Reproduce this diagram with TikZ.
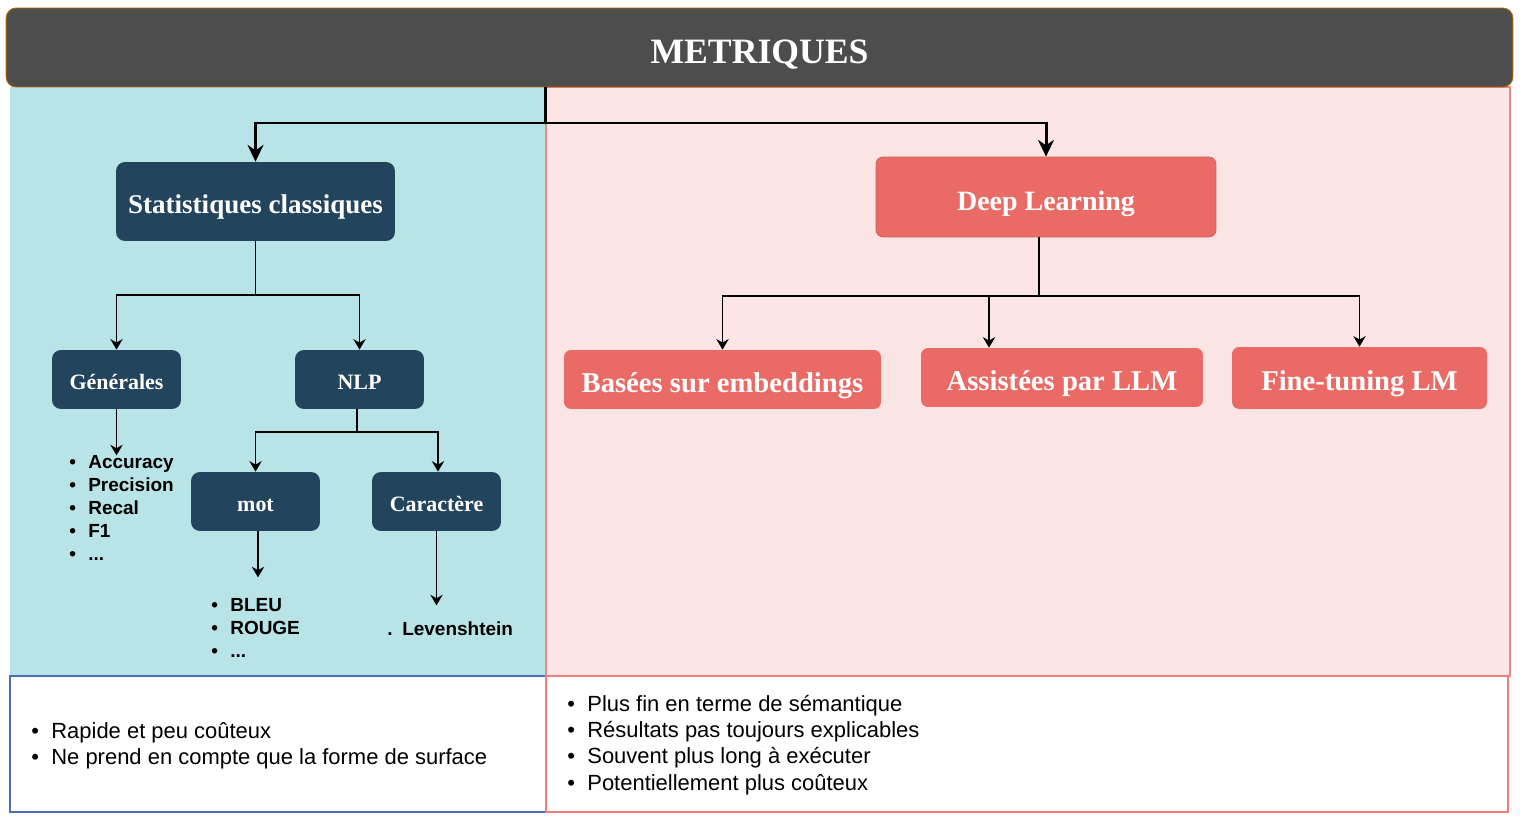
\documentclass[tikz,border=0pt]{standalone}
\usepackage{fontspec}
\setmainfont{Liberation Serif}
\newfontfamily\arialfont{Liberation Sans}
\usetikzlibrary{arrows.meta}
\definecolor{hdrgray}{HTML}{4D4D4D}
\definecolor{hdrline}{HTML}{B46504}
\definecolor{cyanbg}{HTML}{B8E4E7}
\definecolor{pinkbg}{HTML}{FAE4E4}
\definecolor{pinkline}{HTML}{EA8A87}
\definecolor{blueline}{HTML}{4A6FB0}
\definecolor{redline}{HTML}{F07C7C}
\definecolor{navy}{HTML}{23445D}
\definecolor{salmon}{HTML}{EA6B66}
\definecolor{salmonline}{HTML}{C8605C}
\newcommand\bul[2][10.8pt]{\makebox[#1][l]{\textbullet}#2}

\begin{document}
\begin{tikzpicture}[x=0.02cm,y=-0.02cm,
  darkbox/.style={fill=navy,text=white,rounded corners=0.18cm,text depth=0pt},
  redbox/.style={fill=salmon,draw=salmonline,text=white,rounded corners=0.14cm,text depth=0pt,text height=14.8pt},
  small/.style={minimum width=2.58cm,minimum height=1.18cm,text height=11.2pt,font=\bfseries\fontsize{12.5}{15}\selectfont},
  arr/.style={-{Stealth[length=6pt,width=7pt]},line width=1.1pt},
  bigarr/.style={-{Stealth[length=9.5pt,width=9pt]},line width=1.7pt},
  lst/.style={anchor=west,inner sep=0pt,align=left,font=\arialfont\bfseries\fontsize{10.8}{13.1}\selectfont},
  bot/.style={anchor=west,inner sep=0pt,align=left,font=\arialfont\fontsize{12.5}{15}\selectfont}]
\useasboundingbox (0,0) rectangle (1530,824);

% panels
\fill[cyanbg] (10,87) rectangle (546,676);
\filldraw[fill=pinkbg,draw=pinkline,line width=0.6pt] (546,87) rectangle (1510,676);
\filldraw[fill=white,draw=blueline,line width=0.6pt] (10,676) rectangle (546,812);
\filldraw[fill=white,draw=redline,line width=0.6pt] (546,676) rectangle (1508,812);

% header
\node[fill=hdrgray,draw=hdrline,line width=0.5pt,rounded corners=0.2cm,text=white,text depth=0pt,text height=18.5pt,
  minimum width=30.14cm,minimum height=1.58cm,font=\bfseries\fontsize{20.3}{24}\selectfont]
  (top) at (759.5,47.5) {METRIQUES};

% nodes
\node[darkbox,minimum width=5.58cm,minimum height=1.58cm,text height=14.2pt,font=\bfseries\fontsize{15.4}{18}\selectfont]
  (stat) at (255.5,201.5) {Statistiques classiques};
\node[darkbox,small] (gen) at (116.5,379.5) {Générales};
\node[darkbox,small] (nlp) at (359.5,379.5) {NLP};
\node[darkbox,small] (mot) at (255.5,501.5) {mot};
\node[darkbox,small] (car) at (436.5,501.5) {Caractère};

\node[redbox,minimum width=6.8cm,minimum height=1.6cm,text height=15.1pt,font=\bfseries\fontsize{15.9}{18}\selectfont]
  (deep) at (1046,197) {Deep Learning};
\node[redbox,draw=none,minimum width=6.34cm,minimum height=1.18cm,font=\bfseries\fontsize{16.3}{18}\selectfont]
  (emb) at (722.5,379.5) {Basées sur embeddings};
\node[redbox,draw=none,minimum width=5.64cm,minimum height=1.18cm,font=\bfseries\fontsize{16.3}{18}\selectfont]
  (llm) at (1062,377.5) {Assistées par LLM};
\node[redbox,draw=none,minimum width=5.1cm,minimum height=1.24cm,text height=14.3pt,font=\bfseries\fontsize{16.3}{18}\selectfont]
  (ft) at (1359.5,378) {Fine-tuning LM};

% lists
\node[lst] (lgen) at (69,508) {\bul{Accuracy}\\\bul{Precision}\\\bul{Recal}\\\bul{F1}\\\bul{...}};
\node[lst] (lmot) at (211,628) {\bul{BLEU}\\\bul{ROUGE}\\\bul{...}};
\node[lst] (lcar) at (387,628.5) {\makebox[8.5pt][l]{.}Levenshtein};
\node[bot] (lleft) at (31,746) {\bul[11.4pt]{Rapide et peu coûteux}\\\bul[11.4pt]{Ne prend en compte que la forme de surface}};
\node[bot] (lright) at (567,745) {\bul[11.4pt]{Plus fin en terme de sémantique}\\\bul[11.4pt]{Résultats pas toujours explicables}\\
  \bul[11.4pt]{Souvent plus long à exécuter}\\\bul[11.4pt]{Potentiellement plus coûteux}};

% connectors
\coordinate (split) at (545,123);
\draw[bigarr] (top.south -| split) -- (split) -| (stat.north);
\draw[bigarr] (split) -| (deep.north);

\draw[arr] (stat.south) -- ++(0,54) coordinate (ssplit) -| (gen.north);
\draw[arr] (ssplit) -| (nlp.north);
\draw[arr] (gen.south) -- ++(0,46);
\draw[arr] ([xshift=-0.05cm]nlp.south) -- ++(0,23) coordinate (nsplit) -| (mot.north);
\draw[arr] (nsplit) -| ([xshift=0.03cm]car.north);
\draw[arr] ([xshift=0.05cm]mot.south) -- ++(0,46);
\draw[arr] (car.south) -- ++(0,74);

\draw[arr] ([xshift=-0.14cm]deep.south) -- ++(0,59) coordinate (dsplit) -| (emb.north);
\draw[arr] (dsplit) -| ([xshift=-1.46cm]llm.north);
\draw[arr] (dsplit) -| (ft.north);
\end{tikzpicture}
\end{document}
